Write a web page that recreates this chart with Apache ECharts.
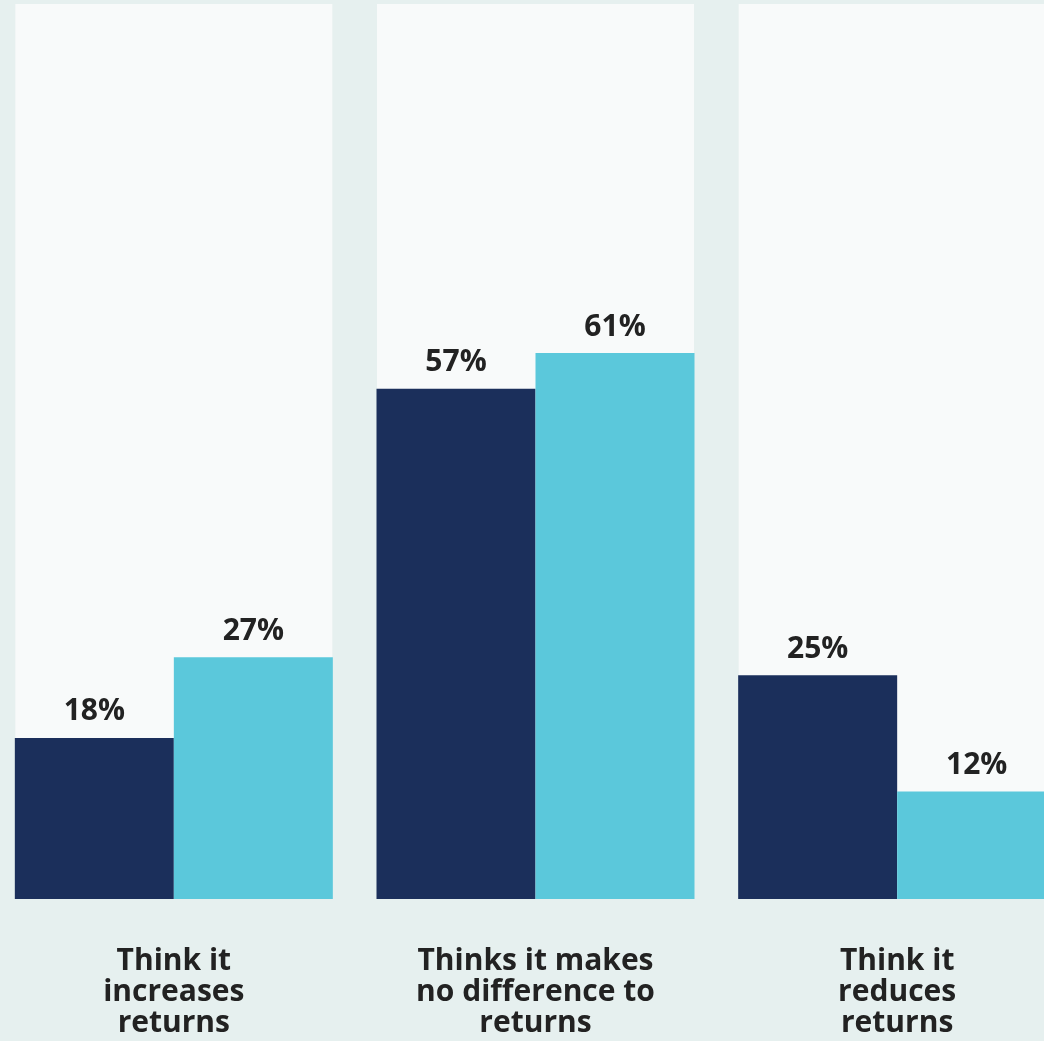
<!DOCTYPE html>
<html>
<head>
<meta charset="utf-8">
<script src="https://cdn.jsdelivr.net/npm/echarts@6/dist/echarts.min.js"></script>
<style>
  html, body { margin: 0; padding: 0; background: #e6f0ef; }
  #chart { width: 1044px; height: 1041px; }
</style>
</head>
<body>
<div id="chart"></div>
<script>
// data
var categories = [
  'Think it\nincreases\nreturns',
  'Thinks it makes\nno difference to\nreturns',
  'Think it\nreduces\nreturns'
];
var navyValues = [18, 57, 25];
var cyanValues = [27, 61, 12];
var axisMax = 100;

var myChart = echarts.init(document.getElementById('chart'));

var labelStyle = {
  show: true,
  position: 'top',
  distance: 11,
  formatter: '{c}%',
  color: '#222222',
  fontFamily: 'Open Sans',
  fontWeight: 'bold',
  fontSize: 30
};

var option = {
  backgroundColor: '#e6f0ef',
  animation: false,
  grid: {
    left: -7, width: 1085, top: 4, bottom: 142,
    containLabel: false,
    outerBoundsMode: 'none'
  },
  xAxis: [
    {
      type: 'category',
      data: categories,
      axisLine: { show: false },
      axisTick: { show: false },
      axisLabel: {
        margin: 47,
        color: '#222222',
        fontFamily: 'Open Sans',
        fontWeight: 'bold',
        fontSize: 30,
        lineHeight: 31,
        interval: 0
      }
    },
    {
      type: 'category',
      data: categories,
      show: false
    }
  ],
  yAxis: {
    type: 'value',
    min: 0,
    max: axisMax,
    show: false
  },
  series: [
    {
      name: 'panel',
      type: 'bar',
      xAxisIndex: 1,
      data: categories.map(function () { return axisMax; }),
      barWidth: 317,
      itemStyle: { color: '#f8fafa' },
      silent: true,
      z: 1
    },
    {
      name: 'navy',
      type: 'bar',
      data: navyValues,
      barWidth: 159,
      barGap: '0%',
      itemStyle: { color: '#1b2f5b' },
      label: labelStyle,
      z: 2
    },
    {
      name: 'cyan',
      type: 'bar',
      data: cyanValues,
      barWidth: 159,
      barGap: '0%',
      itemStyle: { color: '#5bc8db' },
      label: labelStyle,
      z: 2
    }
  ]
};

myChart.setOption(option);
</script>
</body>
</html>
